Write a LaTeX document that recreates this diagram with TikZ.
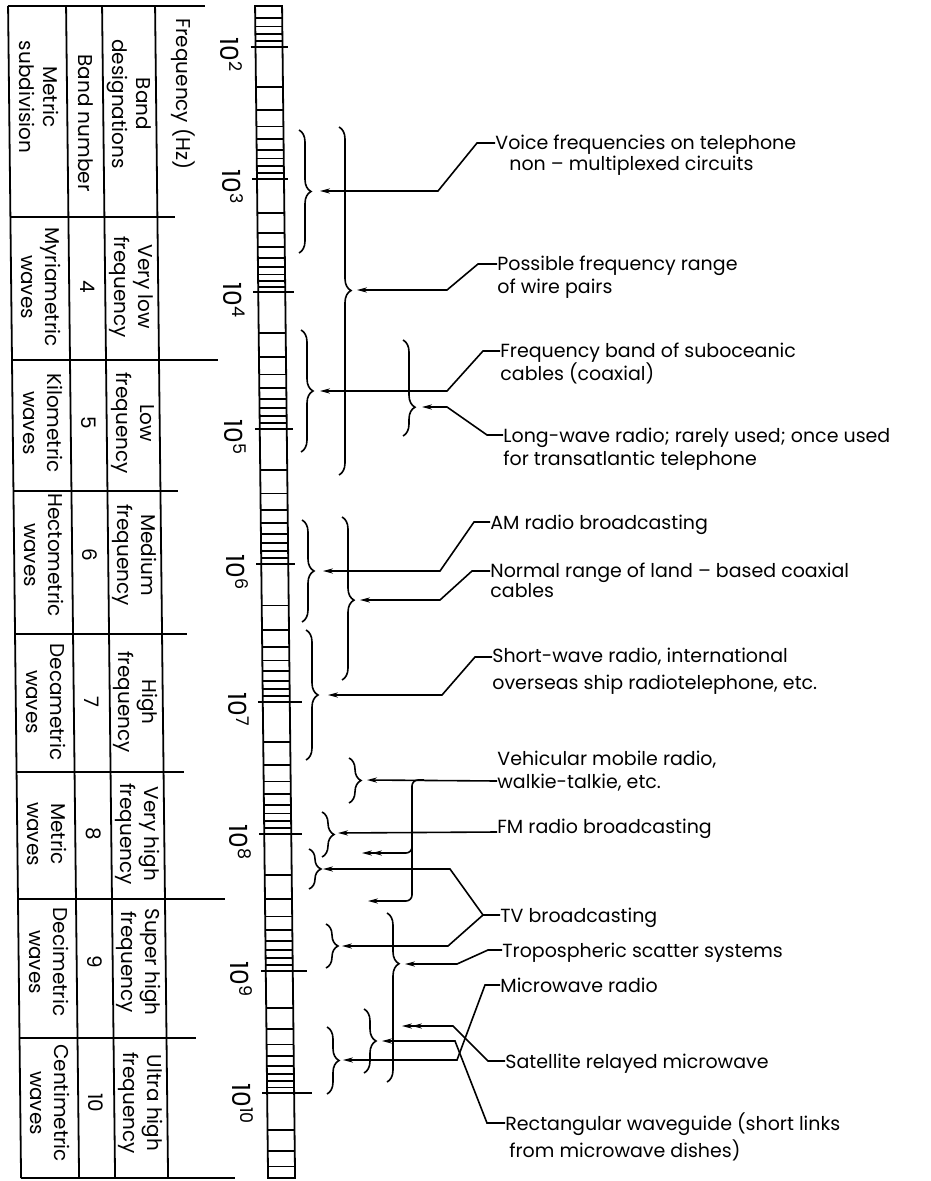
\documentclass[tikz,border=0pt]{standalone}
\usepackage{fontspec}
\newfontfamily\figfont{Poppins}
\usetikzlibrary{arrows.meta,decorations.pathreplacing}

\begin{document}
\begin{tikzpicture}[
  x=0.5pt, y=-0.5pt,
  rule/.style={line width=0.9pt},
  cell/.style={font=\figfont\fontsize{10}{12}\selectfont, rotate=-90,
               align=center, inner sep=0pt},
  dec/.style={font=\figfont\fontsize{12.5}{14}\selectfont, rotate=-90,
              anchor=west, inner sep=0pt},
  lbl/.style={font=\figfont\fontsize{9.5}{11.5}\selectfont, align=left,
              anchor=base west, inner sep=0pt},
  brc/.style={decorate, decoration={brace, amplitude=6pt}, line width=0.8pt},
  lead/.style={line width=0.8pt, -{Stealth[length=5pt,width=2.6pt]}},
  dbl/.style={line width=0.8pt,
              -{Stealth[length=5pt,width=2.6pt] Stealth[length=5pt,width=2.6pt]}},
]
\useasboundingbox (0,0) rectangle (930,1181);

\begin{scope}[xslant=-0.0111]
  % Table frame
  \draw[rule] (8,6) -- (205,6);
  \draw[rule] (8,1178) -- (222,1178);
  \draw[rule] (8,6) -- (8,1178);
  \draw[rule] (66,6) -- (66,1178);
  \draw[rule] (102,6) -- (102,1178);
  \draw[rule] (155,6) -- (155,1178);
  \draw[rule] (8,217) -- (173,217);
  \draw[rule] (8,360) -- (214,360);
  \draw[rule] (8,491) -- (173,491);
  \draw[rule] (8,634) -- (180,634);
  \draw[rule] (8,772) -- (175,772);
  \draw[rule] (8,899) -- (215,899);
  \draw[rule] (8,1038) -- (184,1038);

  % Column headers
  \node[cell, anchor=west] (hfreq) at (183,18) {Frequency (Hz)};
  \node[cell] (hband) at (128,104) {Band\\designations};
  \node[cell] (hnum) at (84,123) {Band number};
  \node[cell] (hmet) at (38,97) {Metric\\subdivision};

  % Bands
  \node[cell] (des4) at (128,287) {Very low\\frequency};
  \node[cell] (num4) at (84,287) {4};
  \node[cell] (met4) at (38,287) {Myriametric\\waves};
  \node[cell] (des5) at (128,423) {Low\\frequency};
  \node[cell] (num5) at (84,423) {5};
  \node[cell] (met5) at (38,423) {Kilometric\\waves};
  \node[cell] (des6) at (128,555) {Medium\\frequency};
  \node[cell] (num6) at (84,555) {6};
  \node[cell] (met6) at (38,555) {Hectometric\\waves};
  \node[cell] (des7) at (128,702) {High\\frequency};
  \node[cell] (num7) at (84,702) {7};
  \node[cell] (met7) at (38,702) {Decametric\\waves};
  \node[cell] (des8) at (128,834) {Very high\\frequency};
  \node[cell] (num8) at (84,834) {8};
  \node[cell] (met8) at (38,834) {Metric\\waves};
  \node[cell] (des9) at (128,962) {Super high\\frequency};
  \node[cell] (num9) at (84,962) {9};
  \node[cell] (met9) at (38,962) {Decimetric\\waves};
  \node[cell] (des10) at (128,1103) {Ultra high\\frequency};
  \node[cell] (num10) at (84,1103) {10};
  \node[cell] (met10) at (38,1103) {Centimetric\\waves};

  % Log scale bar
  \draw[rule] (255,6) rectangle (282,1178);
  \foreach \ya/\yb/\mlo/\mhi in {-85/47/6/9, 47/179/2/9, 179/292/2/9, 292/429/2/9,
      429/564/2/9, 564/702/2/9, 702/834/2/9, 834/971/2/9, 971/1093/2/9, 1093/1215/2/4}
    \foreach \m in {\mlo,...,\mhi} {
      \pgfmathsetmacro\yy{\ya+(\yb-\ya)*ln(\m)/ln(10)}
      \draw[rule] (255,\yy) -- (282,\yy);
    }
  \foreach \e/\y/\r in {2/47/287, 3/179/286, 4/292/291, 5/429/288, 6/564/289,
      7/702/294, 8/834/293, 9/971/296, 10/1093/300} {
    \draw[rule] (250,\y) -- (\r,\y);
    \node[dec] (p\e) at (231,\y-10) {10\textsuperscript{\e}};
  }
\end{scope}

% Braces
\draw[brc] (299,130) -- (299,253);
\coordinate (a1) at (320,191);
\draw[brc, decoration={aspect=0.47}] (339,127) -- (339,475);
\coordinate (a2) at (357,290);
\draw[brc] (301,330) -- (301,452);
\coordinate (a3) at (320,391);
\draw[brc, decoration={aspect=0.7}] (403,340) -- (403,436);
\coordinate (a4) at (422,407);
\draw[brc] (302,520) -- (302,622);
\coordinate (a5) at (323,571);
\draw[brc, decoration={aspect=0.51}] (342,517) -- (342,680);
\coordinate (a6) at (360,600);
\draw[brc] (306,630) -- (306,760);
\coordinate (a7) at (328,695);
\draw[brc] (349,758) -- (349,803);
\coordinate (a8) at (367,780);
\coordinate (a8b) at (362,853);
\coordinate (a8c) at (368,901);
\draw[brc] (322,812) -- (322,857);
\coordinate (a9) at (338,833);
\draw[brc] (309,849) -- (309,889);
\coordinate (a10) at (323,869);
\draw[brc] (326,924) -- (326,968);
\coordinate (a11) at (342,946);
\draw[brc, decoration={aspect=0.3}] (387,913) -- (387,1082);
\coordinate (a12) at (405,964);
\draw[brc] (364,1009) -- (364,1073);
\coordinate (a13) at (382,1041);
\coordinate (a13b) at (402,1026);
\draw[brc] (327,1027) -- (327,1094);
\coordinate (a14) at (343,1060);

% Applications (base = last line)
\node[lbl] (t1) at (495,171) {Voice frequencies on telephone\\[-1pt]\hspace*{7pt}non – multiplexed circuits};
\node[lbl] (t2) at (497,294) {Possible frequency range\\of wire pairs};
\node[lbl] (t3) at (500,381) {Frequency band of suboceanic\\cables (coaxial)};
\node[lbl] (t4) at (503,465) {Long-wave radio; rarely used; once used\\for transatlantic telephone};
\node[lbl] (t5) at (490,529) {AM radio broadcasting};
\node[lbl] (t6) at (490,597) {Normal range of land – based coaxial\\[-1.5pt]cables};
\node[lbl] (t7) at (492,689) {Short-wave radio, international\\[2pt]overseas ship radiotelephone, etc.};
\node[lbl] (t8) at (497,788) {Vehicular mobile radio,\\walkie-talkie, etc.};
\node[lbl] (t9) at (497,833) {FM radio broadcasting};
\node[lbl] (t10) at (500,922) {TV broadcasting};
\node[lbl] (t11) at (502,957) {Tropospheric scatter systems};
\node[lbl] (t12) at (500,992) {Microwave radio};
\node[lbl] (t13) at (505,1068) {Satellite relayed microwave};
\node[lbl] (t14) at (505,1157) {Rectangular waveguide (short links\\[2pt]\hspace*{2pt}from microwave dishes)};

% Leaders
\draw[lead] ([yshift=14pt]t1.base west) -- ++(-18,0) -- (438,191) -- (a1);
\draw[lead] ([yshift=15pt]t2.base west) -- ++(-19,0) -- (447,290) -- (a2);
\draw[lead] ([yshift=15pt]t3.base west) -- ++(-17,0) -- (447,391) -- (a3);
\draw[lead] ([yshift=15pt]t4.base west) -- ++(-16,0) -- (447,407) -- (a4);
\draw[lead] ([yshift=3.5pt]t5.base west) -- ++(-16,0) -- (440,571) -- (a5);
\draw[lead] ([yshift=13pt]t6.base west) -- ++(-18,0) -- (440,600) -- (a6);
\draw[lead] ([yshift=16pt]t7.base west) -- ++(-17,0) -- (442,695) -- (a7);
\draw[lead] ([yshift=3.5pt]t8.base west) -- (a8);
\draw[lead, rounded corners=3pt] (424,780) -| (412,901) -- (a8c);
\draw[dbl, rounded corners=3pt] (412,838) |- (a8b);
\draw[lead] ([yshift=0.5pt]t9.base west) -- (a9);
\coordinate (tvj) at (483,915);
\draw[lead] ([yshift=3.5pt]t10.base west) -- (tvj) -- (450,869) -- (a10);
\draw[lead] (tvj) -- (448,946) -- (a11);
\draw[lead] ([yshift=3.5pt]t11.base west) -- ++(-14,0) -- (457,964) -- (a12);
\draw[lead] ([yshift=3.5pt]t12.base west) -- ++(-15,0) -- (457,1060) -- (a14);
\draw[dbl] ([yshift=3.5pt]t13.base west) -- ++(-17,0) -- (453,1026) -- (a13b);
\draw[lead] ([yshift=17pt]t14.base west) -- ++(-18,0) -- (455,1041) -- (a13);

\end{tikzpicture}
\end{document}
